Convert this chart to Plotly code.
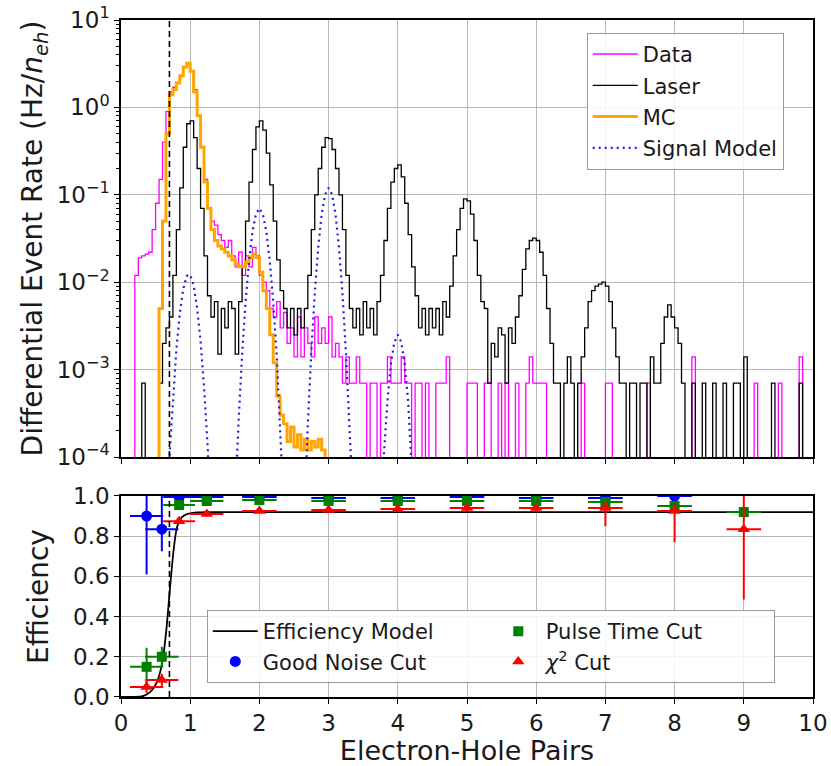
import numpy as np
import plotly.graph_objects as go
from plotly.subplots import make_subplots

# ---------------- data ----------------
bin_width = 0.05          # histogram bin width in electron-hole pairs
threshold = 0.7           # dashed analysis threshold

# Laser calibration spectrum, 200 bins from 0 to 10 (Hz / n_eh), 0 = empty bin
laser_rate = [
    0, 0, 0, 0, 0, 0, 7e-4, 0, 0, 0,
    0, 7e-4, 2e-3, 3e-3, 4e-3, 1.2e-2, 4e-2, 0.12, 0.35, 0.65,
    0.7, 0.45, 0.2, 0.07, 0.02, 7e-3, 4e-3, 6e-3, 1.5e-3, 5e-3,
    3e-3, 6e-3, 5e-3, 1.5e-3, 6e-3, 1.5e-2, 5e-2, 0.14, 0.33, 0.6,
    0.7, 0.55, 0.3, 0.13, 0.05, 0.018, 8e-3, 5e-3, 3e-3, 5e-3,
    2.5e-3, 5e-3, 3e-3, 5e-3, 1.2e-2, 4e-2, 0.1, 0.2, 0.35, 0.45,
    0.44, 0.33, 0.2, 0.1, 0.04, 0.012, 5e-3, 3e-3, 5e-3, 2.5e-3,
    6e-3, 3e-3, 5e-3, 2.5e-3, 6e-3, 1.2e-2, 3e-2, 0.07, 0.14, 0.2,
    0.22, 0.16, 0.08, 0.035, 0.015, 7e-3, 3e-3, 5e-3, 2.5e-3, 5e-3,
    3e-3, 5e-3, 2.5e-3, 6e-3, 4e-3, 9e-3, 2e-2, 0.04, 0.07, 0.09,
    0.085, 0.06, 0.03, 0.012, 6e-3, 5e-3, 7e-4, 2e-3, 1.4e-3, 3e-3,
    2.5e-3, 7e-4, 3e-3, 2e-3, 4e-3, 7e-3, 1.4e-2, 2.4e-2, 3e-2, 3.2e-2,
    3e-2, 2.2e-2, 1.2e-2, 5e-3, 2e-3, 7e-4, 7e-4, 0, 7e-4, 1.4e-3,
    7e-4, 0, 7e-4, 1.4e-3, 3e-3, 6e-3, 8e-3, 9e-3, 9.5e-3, 1e-2,
    9e-3, 6e-3, 3e-3, 1.4e-3, 7e-4, 7e-4, 0, 7e-4, 7e-4, 0,
    7e-4, 7e-4, 0, 1.4e-3, 7e-4, 7e-4, 2e-3, 4e-3, 5.5e-3, 4e-3,
    3e-3, 2e-3, 7e-4, 0, 0, 7e-4, 0, 0, 7e-4, 0,
    0, 7e-4, 0, 0, 7e-4, 0, 0, 7e-4, 7e-4, 0,
    1.4e-3, 0, 0, 0, 0, 0, 0, 0, 7e-4, 0,
    0, 0, 0, 0, 0, 0, 7e-4, 0, 0, 0,
]

# Measured data spectrum, 200 bins from 0 to 10
data_rate = [
    0, 0, 0, 0, 0.012, 0.019, 0.02, 0.021, 0.022, 0.04,
    0.08, 0.15, 0.4, 0.9, 1.5, 1.7, 1.9, 2.3, 2.9, 3.2,
    2.6, 1.6, 0.8, 0.35, 0.15, 0.07, 0.05, 0.045, 0.035, 0.03,
    0.025, 0.03, 0.02, 0.015, 0.022, 0.012, 0.02, 0.015, 0.025, 0.02,
    0.012, 0.01, 0.008, 0.005, 0.004, 0.006, 0.003, 0.0045, 0.002, 0.003,
    0.0014, 0.004, 0.0014, 0.003, 0.002, 0.0014, 0.004, 0.002, 0.003, 0.002,
    0.004, 0.0014, 0.002, 0.0014, 0.0007, 0.0014, 0.0007, 0.0007, 0.0014, 0.0007,
    0.0007, 0, 0.0007, 0.0007, 0, 0.0007, 0.0007, 0.0014, 0.0007, 0.0007,
    0.0007, 0.0014, 0.0007, 0.0007, 0, 0.0007, 0.0007, 0, 0.0007, 0,
    0, 0.0007, 0.0007, 0.0007, 0.0014, 0, 0, 0, 0, 0,
    0.0007, 0.0007, 0.0007, 0, 0, 0.0007, 0.0007, 0, 0, 0.0007,
    0, 0.0007, 0, 0, 0.0007, 0, 0, 0.0007, 0.0014, 0.0007,
    0.0007, 0.0007, 0.0007, 0, 0, 0, 0, 0, 0, 0,
    0, 0, 0, 0.0007, 0, 0, 0, 0, 0, 0,
    0.0007, 0.0007, 0, 0, 0, 0, 0, 0, 0, 0,
    0, 0, 0.0007, 0, 0, 0, 0, 0, 0, 0,
    0, 0, 0, 0, 0, 0.0014, 0, 0, 0, 0,
    0, 0, 0, 0, 0, 0, 0, 0, 0, 0,
    0, 0, 0, 0.0007, 0, 0, 0, 0, 0, 0,
    0.0007, 0, 0, 0, 0, 0, 0.0014, 0, 0, 0,
]

# Monte Carlo spectrum, 60 bins from 0 to 3
mc_rate = [
    0, 0, 0, 0, 0, 0, 0, 0, 0, 0,
    0, 0.005, 0.05, 0.5, 1.4, 1.6, 1.9, 2.3, 2.9, 3.2,
    2.6, 1.5, 0.8, 0.35, 0.14, 0.07, 0.04, 0.03, 0.026, 0.024,
    0.022, 0.02, 0.018, 0.016, 0.015, 0.015, 0.017, 0.019, 0.021, 0.019,
    0.013, 0.008, 0.005, 0.0025, 0.0012, 0.0005, 0.0003, 0.00024, 0.00015, 0.00022,
    0.00013, 0.00018, 0.00012, 0.00016, 0.00012, 0.00015, 0.00013, 0.00016, 0.00012, 0,
]

# Signal model, sampled every 0.05 starting at 0.60
signal_start = 0.60
signal_step = 0.05
signal_rate = [
    1e-7, 1.5e-5, 9.9e-5, 4.8e-4, 1.7e-3, 4.4e-3, 8.4e-3, 1.18e-2, 1.22e-2, 9.2e-3,
    5.1e-3, 2.1e-3, 6.3e-4, 1.4e-4, 2.3e-5, 3e-6, 1e-7, 1e-7, 1e-7, 1e-7,
    3.6e-6, 3.6e-5, 2.7e-4, 1.47e-3, 5.9e-3, 1.75e-2, 3.8e-2, 6.0e-2, 7.0e-2, 6.0e-2,
    3.8e-2, 1.75e-2, 5.9e-3, 1.47e-3, 2.7e-4, 3.6e-5, 3.6e-6, 1e-7, 1e-7, 1e-7,
    1.9e-6, 2.5e-5, 2.4e-4, 1.6e-3, 7.5e-3, 2.5e-2, 6.0e-2, 1.01e-1, 1.2e-1, 1.01e-1,
    6.0e-2, 2.5e-2, 7.5e-3, 1.6e-3, 2.4e-4, 2.5e-5, 1.9e-6, 1e-7, 1e-7, 1e-7,
    1e-7, 1e-7, 2.2e-6, 1.9e-5, 1.1e-4, 4.3e-4, 1.15e-3, 2.06e-3, 2.5e-3, 2.06e-3,
    1.15e-3, 4.3e-4, 1.1e-4, 1.9e-5, 2.2e-6, 1e-7,
]

# Efficiency model curve
eff_model_x = [0, 0.3, 0.37, 0.45, 0.52, 0.57, 0.61, 0.66, 0.71, 0.76, 0.80, 0.84, 0.88, 0.94, 1.0, 1.1, 1.2, 1.5, 10]
eff_model_y = [0, 0.003, 0.012, 0.035, 0.075, 0.13, 0.2, 0.35, 0.55, 0.73, 0.83, 0.875, 0.895, 0.908, 0.914, 0.918, 0.92, 0.92, 0.92]

# Efficiency measurements
eff_x = [0.37, 0.59, 0.84, 1.24, 2, 3, 4, 5, 6, 7, 8, 9]
eff_xerr = [0.24, 0.24, 0.23, 0.24, 0.25, 0.25, 0.25, 0.25, 0.25, 0.25, 0.25, 0.25]

noise_x = [0.37, 0.59, 0.84, 1.24, 2, 3, 4, 5, 6, 7, 8]
noise_xerr = [0.24, 0.24, 0.23, 0.24, 0.25, 0.25, 0.25, 0.25, 0.25, 0.25, 0.25]
noise_y = [0.90, 0.835, 0.995, 0.995, 0.995, 0.99, 0.99, 0.995, 0.99, 0.99, 1.0]
noise_err_lo = [0.29, 0.11, 0.01, 0.01, 0.01, 0.01, 0.01, 0.01, 0.01, 0.01, 0.01]
noise_err_hi = [0.10, 0.165, 0.005, 0.005, 0.005, 0.01, 0.01, 0.005, 0.01, 0.01, 0.0]

pulse_y = [0.15, 0.20, 0.955, 0.975, 0.98, 0.975, 0.975, 0.975, 0.975, 0.97, 0.95, 0.92]
pulse_err_lo = [0.08, 0.05, 0.015, 0.01, 0.01, 0.01, 0.01, 0.01, 0.01, 0.015, 0.02, 0.01]
pulse_err_hi = [0.095, 0.05, 0.015, 0.01, 0.01, 0.01, 0.01, 0.01, 0.01, 0.015, 0.02, 0.01]

chi2_y = [0.05, 0.085, 0.875, 0.91, 0.925, 0.93, 0.935, 0.94, 0.94, 0.94, 0.925, 0.835]
chi2_err_lo = [0.03, 0.03, 0.01, 0.01, 0.01, 0.01, 0.01, 0.015, 0.02, 0.09, 0.155, 0.35]
chi2_err_hi = [0.03, 0.03, 0.01, 0.01, 0.01, 0.01, 0.01, 0.015, 0.02, 0.03, 0.04, 0.165]

log_tick_vals = [1e-4, 1e-3, 1e-2, 1e-1, 1e0, 1e1]
log_tick_text = ["10<sup>\u22124</sup>", "10<sup>\u22123</sup>", "10<sup>\u22122</sup>",
                 "10<sup>\u22121</sup>", "10<sup>0</sup>", "10<sup>1</sup>"]
eff_tick_vals = [0.0, 0.2, 0.4, 0.6, 0.8, 1.0]
x_tick_vals = list(range(0, 11))

# ---------------- helpers ----------------
FLOOR = 1e-7  # empty bins drawn below the visible log range


def step_xy(values):
    vals = np.asarray(values, dtype=float)
    vals = np.where(vals > 0, vals, FLOOR)
    edges = bin_width * np.arange(len(vals) + 1)
    return edges, np.append(vals, vals[-1])


FONT = "DejaVu Sans"
TXT = "#1a1a1a"

fig = make_subplots(rows=2, cols=1, shared_xaxes=True)

# ---------------- top panel ----------------
x, y = step_xy(data_rate)
fig.add_trace(go.Scatter(x=x, y=y, mode="lines", line=dict(color="#ff00ff", width=1.3, shape="hv"),
                         name="Data", legend="legend", legendgroup="a"), row=1, col=1)
x, y = step_xy(laser_rate)
fig.add_trace(go.Scatter(x=x, y=y, mode="lines", line=dict(color="black", width=1.3, shape="hv"),
                         name="Laser", legend="legend", legendgroup="b"), row=1, col=1)
x, y = step_xy(mc_rate)
fig.add_trace(go.Scatter(x=x, y=y, mode="lines", line=dict(color="#ffa500", width=3.0, shape="hv"),
                         name="MC", legend="legend", legendgroup="c"), row=1, col=1)
sx = signal_start + signal_step * np.arange(len(signal_rate))
fig.add_trace(go.Scatter(x=sx, y=signal_rate, mode="lines",
                         line=dict(color="#1f1fe0", width=2.2, dash="2px,4px"),
                         name="Signal Model", legend="legend", legendgroup="d"), row=1, col=1)

# ---------------- bottom panel ----------------
fig.add_trace(go.Scatter(x=eff_model_x, y=eff_model_y, mode="lines",
                         line=dict(color="black", width=1.8, shape="spline", smoothing=0.6),
                         name="Efficiency Model", legend="legend2", legendrank=1), row=2, col=1)
fig.add_trace(go.Scatter(x=noise_x, y=noise_y, mode="markers",
                         marker=dict(color="#0000ff", size=11, symbol="circle"),
                         error_x=dict(type="data", array=noise_xerr, color="#0000ff", thickness=2, width=0),
                         error_y=dict(type="data", array=noise_err_hi, arrayminus=noise_err_lo,
                                      color="#0000ff", thickness=2, width=0),
                         name="Good Noise Cut", legend="legend2", legendrank=3), row=2, col=1)
fig.add_trace(go.Scatter(x=eff_x, y=pulse_y, mode="markers",
                         marker=dict(color="#008000", size=10, symbol="square"),
                         error_x=dict(type="data", array=eff_xerr, color="#008000", thickness=2, width=0),
                         error_y=dict(type="data", array=pulse_err_hi, arrayminus=pulse_err_lo,
                                      color="#008000", thickness=2, width=0),
                         name="Pulse Time Cut", legend="legend2", legendrank=2), row=2, col=1)
fig.add_trace(go.Scatter(x=eff_x, y=chi2_y, mode="markers",
                         marker=dict(color="#ff0000", size=11, symbol="triangle-up"),
                         error_x=dict(type="data", array=eff_xerr, color="#ff0000", thickness=2, width=0),
                         error_y=dict(type="data", array=chi2_err_hi, arrayminus=chi2_err_lo,
                                      color="#ff0000", thickness=2, width=0),
                         name="<i>\u03c7</i><sup>2</sup> Cut", legend="legend2", legendrank=4), row=2, col=1)

# threshold lines
for r in (1, 2):
    fig.add_vline(x=threshold, line=dict(color="black", width=1.6, dash="6px,4px"), row=r, col=1)

axis_common = dict(showline=True, linecolor="black", linewidth=1.5, mirror=True,
                   ticks="outside", ticklen=5, tickwidth=1.3, tickcolor="black",
                   showgrid=True, gridcolor="#b8b8b8", gridwidth=1.2, zeroline=False,
                   automargin=False,
                   tickfont=dict(family=FONT, size=23, color=TXT))

minor_vals = [k * 10.0 ** e for e in range(-4, 1) for k in range(2, 10)]

fig.update_layout(
    width=831, height=766,
    margin=dict(l=121, r=18, t=20, b=69, autoexpand=False),
    paper_bgcolor="white", plot_bgcolor="white",
    font=dict(family=FONT, color=TXT),
    xaxis=dict(axis_common, range=[0, 10], tickvals=x_tick_vals, showticklabels=False),
    xaxis2=dict(axis_common, range=[0, 10], tickvals=x_tick_vals,
                title=dict(text="Electron-Hole Pairs", font=dict(family=FONT, size=27, color=TXT), standoff=4)),
    yaxis=dict(axis_common, type="log", range=[-4, 1], domain=[0.3545, 1.0],
               tickvals=log_tick_vals, ticktext=log_tick_text,
               minor=dict(tickmode="array", tickvals=minor_vals, ticks="outside", ticklen=3,
                          tickcolor="black", showgrid=False),
               title=dict(text="Differential Event Rate (Hz/<i>n</i><sub><i>eh</i></sub>)",
                          font=dict(family=FONT, size=28, color=TXT), standoff=6)),
    yaxis2=dict(axis_common, range=[0, 1.0], domain=[0.0, 0.2969],
                tickvals=eff_tick_vals, tickformat=".1f",
                title=dict(text="Efficiency", font=dict(family=FONT, size=28, color=TXT), standoff=16)),
    legend=dict(x=0.673, y=0.981, xanchor="left", yanchor="top",
                bgcolor="rgba(255,255,255,0.85)", bordercolor="#999999", borderwidth=1,
                font=dict(family=FONT, size=21, color=TXT), itemwidth=45, tracegroupgap=1),
    legend2=dict(x=0.124, y=0.1285, xanchor="left", yanchor="top", orientation="h",
                 entrywidth=223, bgcolor="rgba(255,255,255,0.85)", bordercolor="#999999", borderwidth=1,
                 font=dict(family=FONT, size=21, color=TXT), itemwidth=45),
    showlegend=True,
)

fig.write_html("out.html")
